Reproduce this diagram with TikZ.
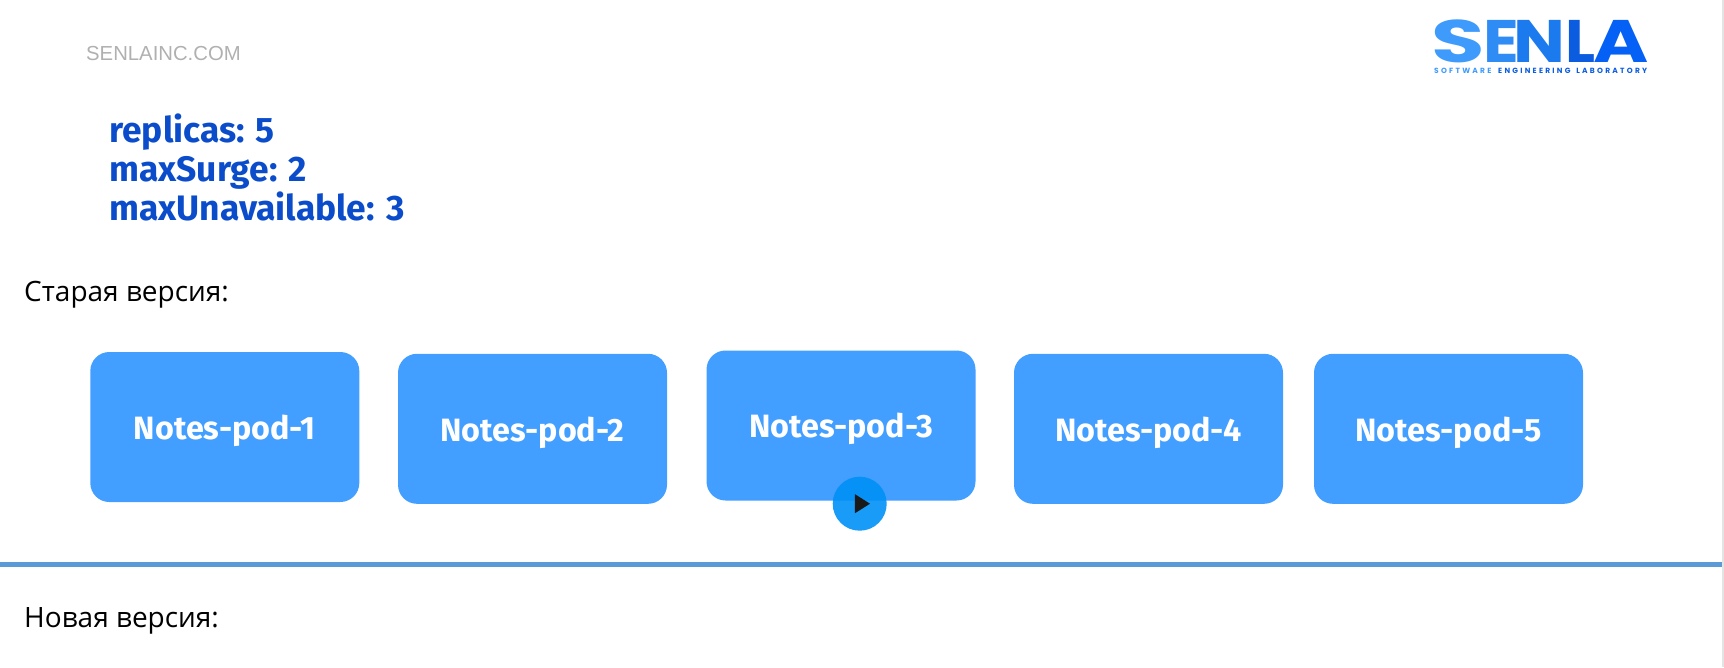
\documentclass[tikz,border=0pt]{standalone}
\usepackage{fontspec}
\setmainfont{Liberation Sans}
\newfontfamily\labelfont{Open Sans}
\newfontfamily\boldfont{Fira Sans}
\newfontfamily\logofont{Poppins}[BoldFont=Poppins Bold]
\usetikzlibrary{shapes.geometric}
\definecolor{podblue}{HTML}{429EFF}
\definecolor{specblue}{HTML}{0B4CCB}
\definecolor{rulecol}{HTML}{5B9BD5}
\definecolor{sitegray}{HTML}{B0B0B0}
\definecolor{edgegray}{HTML}{E4E4E4}
\definecolor{playblue}{RGB}{0,144,247}
\definecolor{logoa}{HTML}{3F9BFB}
\definecolor{logob}{HTML}{2F8CF5}
\definecolor{logoc}{HTML}{1A7AEE}
\definecolor{logod}{HTML}{0B5CDF}
\definecolor{logoe}{HTML}{0560F5}
\begin{document}
\begin{tikzpicture}[x=1pt,y=-1pt,
            pod/.style = {fill = podblue, text = white, rounded corners = 19pt, minimum width = 269pt,
                minimum height = 150pt, text depth = 0pt, font = \boldfont\bfseries\fontsize{32.3}{36}\selectfont},
            spec/.style = {anchor = base west, inner sep = 0pt, text = specblue, font = \boldfont\bfseries\fontsize{35.4}{38}\selectfont},
            version/.style = {anchor = base west, inner sep = 0pt, font = \labelfont\fontsize{28}{34}\selectfont},
            logo/.style = {anchor = base west, inner sep = 0pt, transform shape, font = \logofont\bfseries\fontsize{60}{60}\selectfont}
            ]
            \useasboundingbox (0,0) rectangle (1724,667);
            \node[anchor = base west, inner sep = 0pt, text = sitegray, font = \fontsize{20.3}{24}\selectfont] (site) at (86,60) {SENLAINC.COM};
            \node[spec] (replicas) at (109,142.5) {replicas: 5};
            \node[spec] (surge) at (109,181.5) {maxSurge: 2};
            \node[spec] (unavailable) at (109,220) {maxUnavailable: 3};
            \node[version] (old) at (24,301) {Старая версия:};
            \node[pod] (pod1) at (224.8,427) {Notes-pod-1};
            \node[pod] (pod2) at (532.5,428.8) {Notes-pod-2};
            \node[pod] (pod3) at (841,425.5) {Notes-pod-3};
            \node[pod] (pod4) at (1148.5,428.8) {Notes-pod-4};
            \node[pod] (pod5) at (1448.5,428.8) {Notes-pod-5};
            \node[circle, fill = playblue, fill opacity = 0.9, minimum size = 54pt, inner sep = 0pt] (play) at (859.7,503.7) {};
            \node[isosceles triangle, isosceles triangle stretches, fill = black!90, minimum height = 15pt,
                minimum width = 19pt, shape border rotate = 0, inner sep = 0pt, xshift = 0.5pt] (tri) at (play) {};
            \coordinate (rulel) at (0,564);
            \coordinate (ruler) at (1724,564);
            \draw[rulecol, line width = 5pt] (rulel) -- (ruler);
            \coordinate (edget) at (1723,0);
            \coordinate (edgeb) at (1723,667);
            \draw[edgegray, line width = 2pt] (edget) -- (edgeb);
            \node[version] (new) at (24,627) {Новая версия:};
            \node[logo, text = logoa, xscale = 1.45] (ls) at (1431,62) {S};
            \node[logo, text = logob, xscale = 1.1] (le) at (1483,62) {E};
            \node[logo, text = logoc, xscale = 1.15] (ln) at (1513,62) {N};
            \node[logo, text = logod, xscale = 1.05] (ll) at (1565,62) {L};
            \node[logo, text = logoe, xscale = 1.25] (la) at (1593,62) {A};
            \node[anchor = base west, inner sep = 0pt, font = \logofont\bfseries\fontsize{7.5}{8}\addfontfeature{LetterSpace=30}] (tag) at (1434,73)
                {\textcolor{logoa}{SOFTWARE}\hspace{3pt} \textcolor{logod}{ENGINEERING\hspace{2pt} LABORATORY}};
        \end{tikzpicture}
\end{document}
